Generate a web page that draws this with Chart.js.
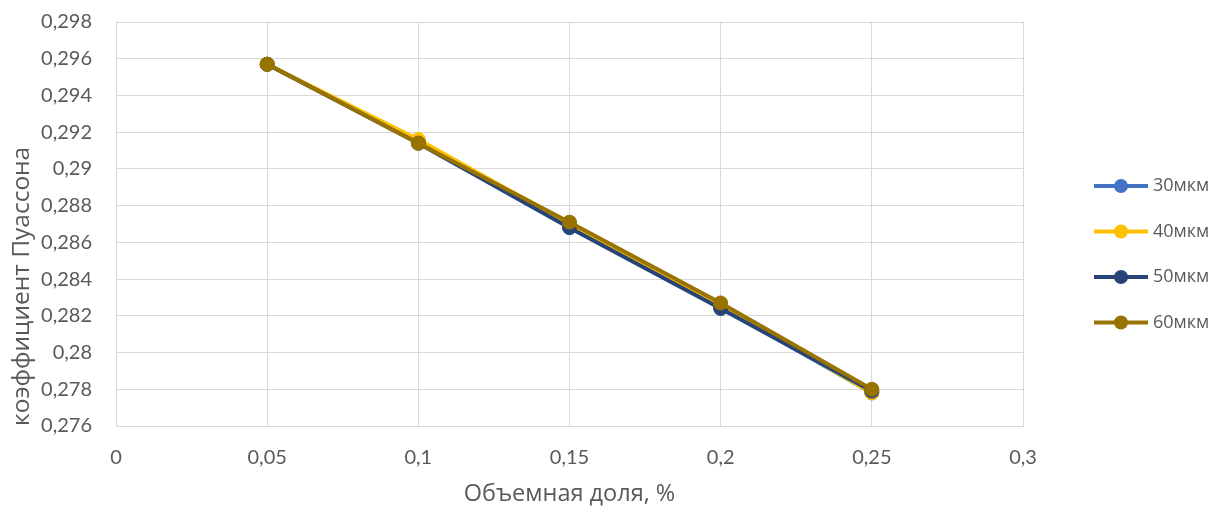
<!DOCTYPE html>
<html>
<head>
<meta charset="utf-8">
<script src="https://cdn.jsdelivr.net/npm/chart.js@4"></script>
<style>
  html, body { margin: 0; padding: 0; background: #fff; }
  #wrap { width: 1223px; height: 508px; position: relative; }
</style>
</head>
<body>
<div id="wrap"><canvas id="c"></canvas></div>
<script>
// Volume fraction (x) and Poisson's ratio per particle size
const fractions = [0.05, 0.1, 0.15, 0.2, 0.25];
const seriesNames = ['30мкм', '40мкм', '50мкм', '60мкм'];
const nu30 = [0.2957, 0.2915, 0.2869, 0.2825, 0.2778];
const nu40 = [0.2957, 0.2916, 0.2870, 0.2826, 0.2778];
const nu50 = [0.2957, 0.2914, 0.2868, 0.2824, 0.2779];
const nu60 = [0.2957, 0.2914, 0.2871, 0.2827, 0.2780];
const colors = ['#4472C4', '#FFC000', '#264478', '#997300'];
const xTitle = 'Объемная доля, %';
const yTitle = 'коэффициент Пуассона';

const TICK_FONT = 'Lato, "Open Sans", sans-serif';
const TITLE_FONT = '"Open Sans", "Noto Sans", sans-serif';
const TEXT = '#595959';
const GRID = '#d9d9d9';

const fmt = v => String(Math.round(v * 1000) / 1000).replace('.', ',');

const values = [nu30, nu40, nu50, nu60];
const datasets = values.map((vals, i) => ({
  label: seriesNames[i],
  data: fractions.map((x, j) => ({ x, y: vals[j] })),
  borderColor: colors[i],
  backgroundColor: colors[i],
  pointBackgroundColor: colors[i],
  pointBorderColor: colors[i],
  borderWidth: 4,
  pointRadius: 7,
  pointBorderWidth: 1,
  pointHoverRadius: 7,
  tension: 0,
  order: values.length - i
}));

// Legend on the right: short line with a marker, then the series name
const sideLegend = {
  id: 'sideLegend',
  afterDraw(chart) {
    const ctx = chart.ctx;
    const x0 = 1094, x1 = 1148, tx = 1153;
    const startY = 186, step = 45.5;
    ctx.save();
    chart.data.datasets.forEach((ds, i) => {
      const y = startY + i * step;
      ctx.strokeStyle = ds.borderColor;
      ctx.lineWidth = 4;
      ctx.beginPath();
      ctx.moveTo(x0, y);
      ctx.lineTo(x1, y);
      ctx.stroke();
      ctx.fillStyle = ds.borderColor;
      ctx.beginPath();
      ctx.arc((x0 + x1) / 2, y, 7, 0, Math.PI * 2);
      ctx.fill();
      ctx.fillStyle = TEXT;
      ctx.font = '18px ' + TITLE_FONT;
      ctx.textAlign = 'left';
      ctx.textBaseline = 'middle';
      ctx.fillText(ds.label, tx, y);
    });
    ctx.restore();
  }
};

new Chart(document.getElementById('c'), {
  type: 'line',
  data: { datasets },
  options: {
    responsive: true,
    maintainAspectRatio: false,
    animation: false,
    layout: { padding: { top: 22, right: 200, left: 0, bottom: 0 } },
    plugins: {
      legend: { display: false },
      tooltip: { enabled: false }
    },
    scales: {
      x: {
        type: 'linear',
        min: 0, max: 0.3,
        ticks: {
          stepSize: 0.05,
          padding: 20,
          color: TEXT,
          font: { family: TICK_FONT, size: 20 },
          callback: v => fmt(v)
        },
        grid: { color: GRID, lineWidth: 1, drawTicks: false },
        border: { color: GRID },
        title: {
          display: true,
          text: xTitle,
          color: TEXT,
          font: { family: TITLE_FONT, size: 23.5 },
          padding: { top: 0, bottom: 0 }
        },
        afterFit: s => { s.height = 82; s.paddingLeft = 0; s.paddingRight = 0; }
      },
      y: {
        type: 'linear',
        min: 0.276, max: 0.298,
        ticks: {
          stepSize: 0.002,
          padding: 24,
          color: TEXT,
          font: { family: TICK_FONT, size: 20 },
          callback: v => fmt(v)
        },
        grid: { color: GRID, lineWidth: 1, drawTicks: false },
        border: { color: GRID },
        title: {
          display: true,
          text: yTitle,
          align: 'start',
          color: TEXT,
          font: { family: TITLE_FONT, size: 24.5 },
          padding: { top: 7, bottom: 0 }
        },
        afterFit: s => { s.width = 116; s.paddingTop = 0; s.paddingBottom = 0; }
      }
    }
  },
  plugins: [sideLegend]
});
</script>
</body>
</html>
